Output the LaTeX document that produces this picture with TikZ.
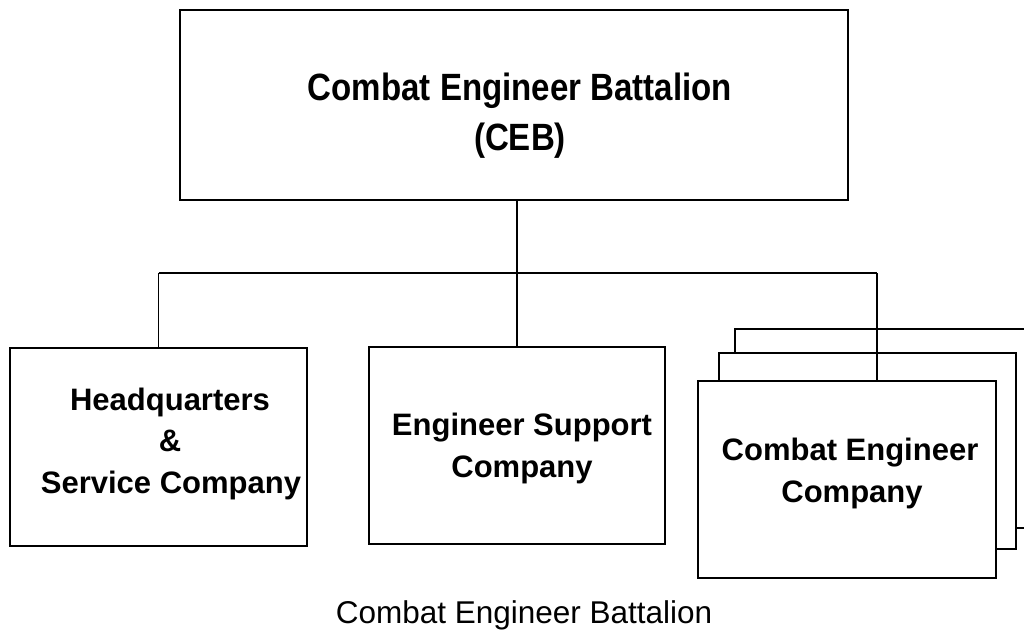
\documentclass[tikz,border=0pt]{standalone}
\usepackage{fontspec}
\setmainfont{Liberation Sans}
\usetikzlibrary{positioning}
\begin{document}
\begin{tikzpicture}[x=1pt,y=-1pt,
  orgbox/.style={draw, line width=1.9pt, fill=white, inner sep=0pt, outer sep=0pt},
  conn/.style={line width=1.6pt},
  boxtxt/.style={inner sep=0pt, anchor=base, font=\fontsize{31}{36}\selectfont\bfseries},
  titletxt/.style={inner sep=0pt, anchor=base, xscale=0.87, transform shape, font=\fontsize{38}{44}\selectfont\bfseries},
  captxt/.style={inner sep=0pt, anchor=base, font=\fontsize{31.5}{36}\selectfont}]
\useasboundingbox (0,0) rectangle (1024,633);
\begin{scope}
\clip (0,0) rectangle (1024,633);
% boxes
\node[orgbox, minimum width=668pt, minimum height=190pt] (ceb) at (514,105) {};
\node[orgbox, minimum width=297pt, minimum height=198pt] (hq) at (158.5,447) {};
\node[orgbox, minimum width=296pt, minimum height=197pt] (esc) at (517,445.5) {};
\node[orgbox, minimum width=305pt, minimum height=199pt] (ce3) at (887.5,428.5) {};
\node[orgbox, minimum width=297pt, minimum height=196pt] (ce2) at (867.5,451) {};
\node[orgbox, minimum width=298pt, minimum height=197pt] (ce1) at (847,479.5) {};
% connectors
\coordinate (bus) at (517,273);
\coordinate (cedrop) at (877,381);
\draw[conn] (esc.north |- ceb.south) -- (esc.north);
\draw[conn] (hq.north |- bus) -- (cedrop |- bus);
\draw[conn] (hq.north |- bus) -- (hq.north);
\draw[conn] (cedrop |- bus) -- (cedrop);
\end{scope}
% texts
\node[titletxt] (t1) at (520,100) {Combat Engineer Battalion};
\node[titletxt] (t2) at (520,150) {(CEB)};
\node[boxtxt] (h1) at (170,410) {Headquarters};
\node[boxtxt] (h2) at (170,451) {\&};
\node[boxtxt] (h3) at (171,493) {Service Company};
\node[boxtxt] (e1) at (522,435) {Engineer Support};
\node[boxtxt] (e2) at (522,477) {Company};
\node[boxtxt] (c1) at (850,460) {Combat Engineer};
\node[boxtxt] (c2) at (852,502) {Company};
\node[captxt] (cap) at (524,623) {Combat Engineer Battalion};
\end{tikzpicture}
\end{document}
